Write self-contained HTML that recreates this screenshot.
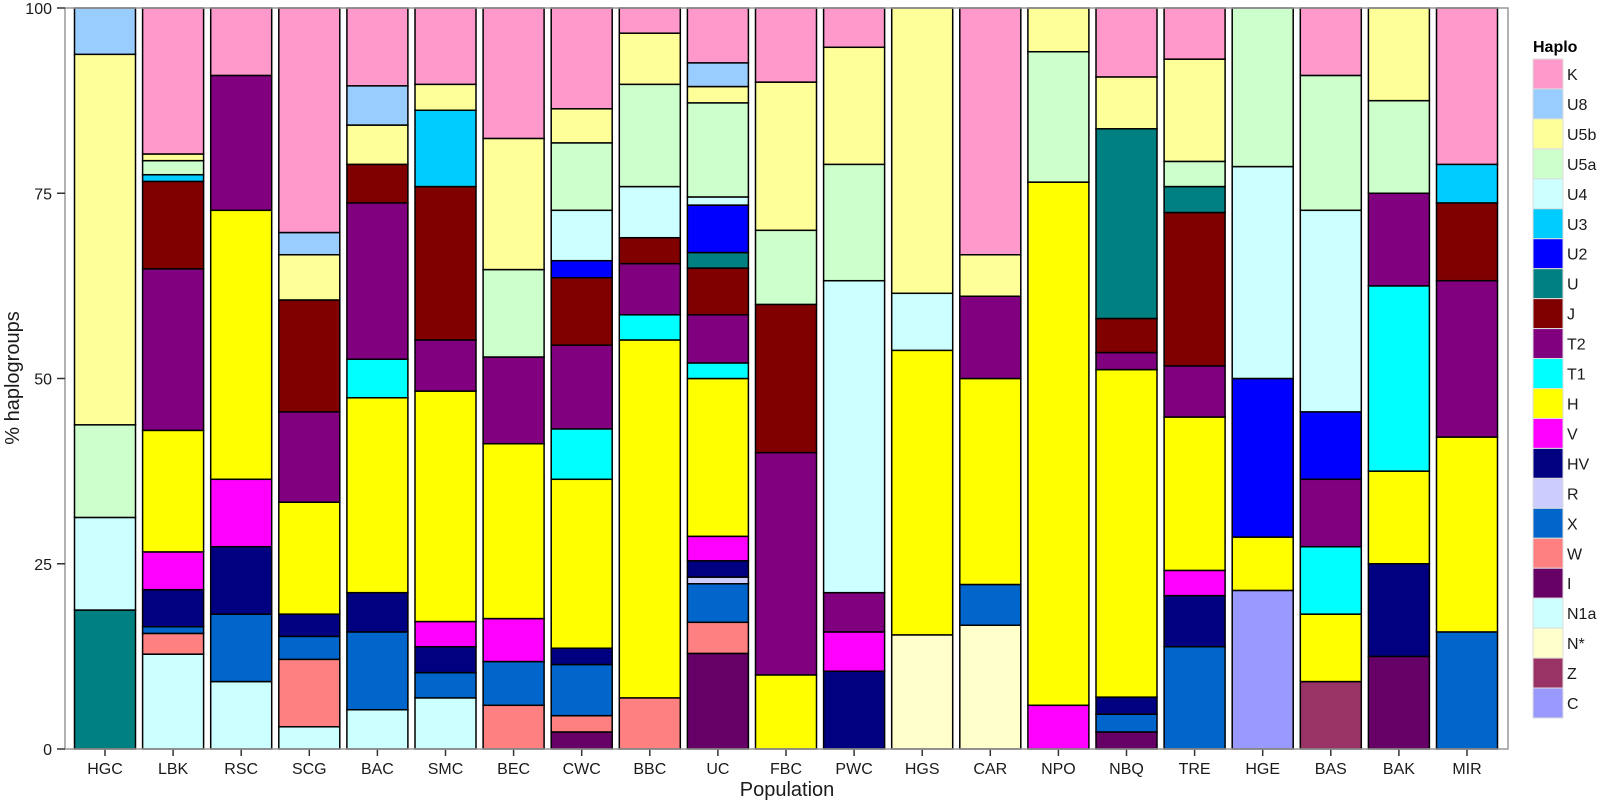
<!DOCTYPE html>
<html><head><meta charset="utf-8"><style>
body{margin:0;background:#fff;}
svg{display:block;font-family:"Liberation Sans",Arial,sans-serif;}
</style></head><body>
<svg id="chart" width="1600" height="804"></svg>
<script>
const populations=["HGC","LBK","RSC","SCG","BAC","SMC","BEC","CWC","BBC","UC","FBC","PWC","HGS","CAR","NPO","NBQ","TRE","HGE","BAS","BAK","MIR"];
const haplos=["C","Z","N*","N1a","I","W","X","R","HV","V","H","T1","T2","J","U","U2","U3","U4","U5a","U5b","U8","K"];
const colors=["#9999FF","#993366","#FFFFCC","#CCFFFF","#660066","#FF8080","#0066CC","#CCCCFF","#000080","#FF00FF","#FFFF00","#00FFFF","#800080","#800000","#008080","#0000FF","#00CCFF","#CCFFFF","#CCFFCC","#FFFF99","#99CCFF","#FF99CC"];
const tickLabels=[0,25,50,75,100];
// values per haplogroup, in population order
const vC  =[0,0,0,0,0,0,0,0,0,0,0,0,0,0,0,0,0,21.4,0,0,0];
const vZ  =[0,0,0,0,0,0,0,0,0,0,0,0,0,0,0,0,0,0,9.1,0,0];
const vNs =[0,0,0,0,0,0,0,0,0,0,0,0,15.4,16.7,0,0,0,0,0,0,0];
const vN1a=[0,12.8,9.1,3,5.3,6.9,0,0,0,0,0,0,0,0,0,0,0,0,0,0,0];
const vI  =[0,0,0,0,0,0,0,2.3,0,12.9,0,0,0,0,0,2.3,0,0,0,12.5,0];
const vW  =[0,2.8,0,9.1,0,0,5.9,2.2,6.9,4.2,0,0,0,0,0,0,0,0,0,0,0];
const vX  =[0,0.9,9.1,3.1,10.5,3.4,5.9,6.9,0,5.2,0,0,0,5.5,0,2.4,13.8,0,0,0,15.8];
const vR  =[0,0,0,0,0,0,0,0,0,0.9,0,0,0,0,0,0,0,0,0,0,0];
const vHV =[0,5,9.1,3,5.3,3.5,0,2.2,0,2.2,0,10.5,0,0,0,2.3,6.9,0,0,12.5,0];
const vV  =[0,5.1,9.1,0,0,3.4,5.8,0,0,3.3,0,5.3,0,0,5.9,0,3.4,0,0,0,0];
const vH  =[0,16.4,36.3,15.1,26.3,31.1,23.6,22.8,48.3,21.3,10,0,38.4,27.8,70.6,44.2,20.7,7.2,9.1,12.5,26.3];
const vT1 =[0,0,0,0,5.2,0,0,6.8,3.4,2.1,0,0,0,0,0,0,0,0,9.1,25,0];
const vT2 =[0,21.8,18.2,12.2,21.1,6.9,11.7,11.3,6.9,6.5,30,5.3,0,11.1,0,2.3,6.9,0,9.1,12.5,21.1];
const vJ  =[0,11.8,0,15.1,5.2,20.7,0,9.1,3.5,6.3,20,0,0,0,0,4.6,20.7,0,0,0,10.5];
const vU  =[18.75,0,0,0,0,0,0,0,0,2.1,0,0,0,0,0,25.6,3.5,0,0,0,0];
const vU2 =[0,0,0,0,0,0,0,2.3,0,6.4,0,0,0,0,0,0,0,21.4,9.1,0,0];
const vU3 =[0,0.9,0,0,0,10.3,0,0,0,0,0,0,0,0,0,0,0,0,0,0,5.2];
const vU4 =[12.5,0,0,0,0,0,0,6.8,6.9,1.1,0,42.1,7.7,0,0,0,0,28.6,27.2,0,0];
const vU5a=[12.5,1.9,0,0,0,0,11.8,9.1,13.8,12.7,10,15.7,0,0,17.6,0,3.4,21.4,18.2,12.5,0];
const vU5b=[50,0.9,0,6.1,5.3,3.5,17.7,4.6,6.9,2.2,20,15.8,38.5,5.6,5.9,7,13.8,0,0,12.5,0];
const vU8 =[6.25,0,0,3,5.3,0,0,0,0,3.2,0,0,0,0,0,0,0,0,0,0,0];
const vK  =[0,19.7,9.1,30.3,10.5,10.3,17.6,13.6,3.4,7.4,10,5.3,0,33.3,0,9.3,6.9,0,9.1,0,21.1];
const series=[vC,vZ,vNs,vN1a,vI,vW,vX,vR,vHV,vV,vH,vT1,vT2,vJ,vU,vU2,vU3,vU4,vU5a,vU5b,vU8,vK];

const NS="http://www.w3.org/2000/svg";
const svg=document.getElementById('chart');
const L=65,R=1508,T=8,B=749;
const step=(1467-105)/(populations.length-1);
const xC=i=>105+i*step;
const yS=v=>B-(v/100)*(B-T);
const bw=61;
function mk(tag,at){const e=document.createElementNS(NS,tag);for(const k in at)e.setAttribute(k,at[k]);svg.appendChild(e);return e;}

const frame=mk('rect',{x:L,y:T,width:R-L,height:B-T,fill:'#fff',stroke:'none'});



populations.forEach((p,i)=>{
  let tot=0;series.forEach(s=>tot+=s[i]);
  let cum=0;
  series.forEach((s,k)=>{
    const v=s[i];if(v<=0)return;
    const y0=yS(cum/tot*100),y1=yS((cum+v)/tot*100);cum+=v;
    const r=mk('rect',{x:xC(i)-bw/2,y:y1,width:bw,height:y0-y1,fill:colors[k],stroke:'#000','stroke-width':1.5});
    
    
  });
  const tk=mk('line',{x1:xC(i),x2:xC(i),y1:B,y2:B+7,stroke:'#333','stroke-width':1.5});
  
  
  const t=mk('text',{x:xC(i),y:774,'text-anchor':'middle','font-size':16,fill:'#1a1a1a'});
  t.textContent=p;
  
  
});
const border=mk('rect',{x:L,y:T,width:R-L,height:B-T,fill:'none',stroke:'#999','stroke-width':1.5});



tickLabels.forEach(v=>{
  const y=yS(v);
  const tk=mk('line',{x1:57,x2:L,y1:y,y2:y,stroke:'#333','stroke-width':1.5});
  
  
  const t=mk('text',{x:52,y:y+6,'text-anchor':'end','font-size':16,fill:'#1a1a1a'});
  t.textContent=v;
  
  
});
const xt=mk('text',{x:787,y:796,'text-anchor':'middle','font-size':20,fill:'#1a1a1a'});
xt.textContent='Population';


const yt=mk('text',{x:0,y:0,'text-anchor':'middle','font-size':20,fill:'#1a1a1a',transform:'translate(19,378) rotate(-90)'});
yt.textContent='% haplogroups';



const lt=mk('text',{x:1533,y:52,'font-size':16,'font-weight':'bold',fill:'#000'});
lt.textContent='Haplo';


const lh=(718-59)/haplos.length;
for(let j=0;j<haplos.length;j++){
  const k=haplos.length-1-j;
  const y=59+j*lh;
  const b=mk('rect',{x:1533,y:y,width:30,height:lh,fill:colors[k],stroke:'#ddd','stroke-width':1});
  
  
  const t=mk('text',{x:1567,y:y+lh/2+6,'font-size':16,fill:'#1a1a1a'});
  t.textContent=haplos[k];
  
  
}
</script>
</body></html>
